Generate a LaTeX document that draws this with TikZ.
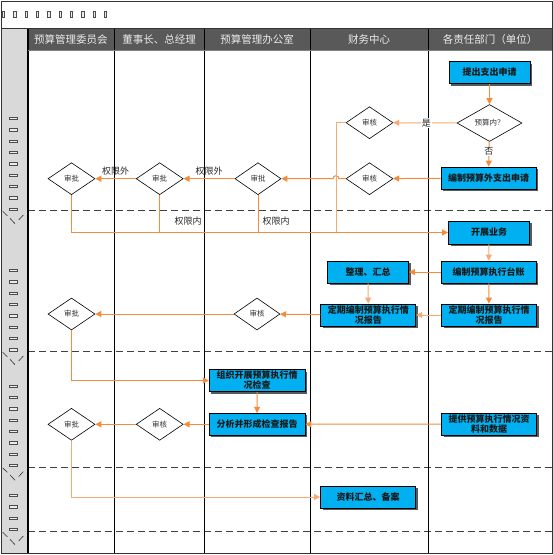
\documentclass[tikz,border=0pt]{standalone}
\usepackage{fontspec}
\setmainfont{Noto Sans CJK SC}
\usetikzlibrary{shapes.geometric,arrows.meta,shadows}
\definecolor{boxblue}{RGB}{0,176,240}
\definecolor{org}{RGB}{245,140,60}
\definecolor{lorg}{RGB}{248,170,115}
\definecolor{hdr}{RGB}{89,89,89}
\definecolor{side}{RGB}{217,217,217}
\begin{document}
\begin{tikzpicture}[x=1pt,y=-1pt,
  box/.style={rectangle,draw=black,line width=0.8pt,fill=boxblue,minimum height=22pt,inner sep=1pt,align=center,font=\fontsize{9}{10}\selectfont\bfseries,text=black!90,drop shadow={shadow xshift=2pt,shadow yshift=-2pt,fill=black!65,opacity=1}},
  dia/.style={diamond,draw=black,line width=0.6pt,fill=white,inner sep=0pt,minimum width=47pt,minimum height=32pt,font=\fontsize{7.5}{8}\selectfont,text=black!80},
  arr/.style={draw=org,line width=1pt,-{Triangle[length=6pt,width=6pt]}},
  larr/.style={draw=lorg,line width=1pt,-{Triangle[length=6pt,width=6pt]}},
  ln/.style={draw=org,line width=1pt},
  lln/.style={draw=lorg,line width=1pt},
  lbl/.style={font=\fontsize{9}{10}\selectfont,inner sep=1pt,text=black!85},
  hdrtxt/.style={font=\fontsize{10.5}{11}\selectfont,text=white!92!black},
  sep/.style={draw=black!75,line width=0.9pt,dash pattern=on 7pt off 4pt},
  glyphbox/.style={draw=black!70,fill=gray!15,line width=0.5pt},
  chev/.style={draw=black!80,line width=0.6pt}
]
\useasboundingbox (0,0) rectangle (553,555);
% backgrounds
\fill[white] (0,0) rectangle (553,555);
\fill[side] (1,28) rectangle (28,553);
\fill[hdr] (28,28) rectangle (552,50);
% title placeholder boxes
\foreach \k in {0,...,9} {
  \draw[glyphbox] ({2.2+11.33*\k},11) rectangle ({4.7+11.33*\k},17);
}
% side column placeholder boxes
\foreach \yb/\n in {209/8,349.7/7,465.3/7,529.3/3} {
  \foreach \k in {0,...,\n} {
    \draw[glyphbox] (9.3,{\yb-11.33*\k-1.2}) rectangle (17.3,{\yb-11.33*\k+1.2});
  }
}
% separators
\foreach \ys in {210.7,351.7,467.3,531.7} {
  \draw[sep] (28,\ys) -- (552,\ys);
  \draw[chev] (2.7,\ys+0.6) -- (7.3,\ys+5);
  \draw[chev] (10,\ys+7.6) -- (15,\ys+13);
  \draw[chev] (18.7,\ys+9.3) -- (23.3,\ys+4.3);
}
% column lines
\foreach \xc in {114,204,310.5,428} {
  \draw[black,line width=0.9pt] (\xc,28) -- (\xc,553);
}
\draw[black,line width=1.2pt] (28,28) -- (28,553);
\draw[black!80,line width=1pt] (1,28) -- (552,28);
\draw[gray,line width=0.8pt] (28,50) -- (552,50);
\draw[black!80,line width=1pt] (1,1) rectangle (552,553);
% header texts
\node[hdrtxt] (h1) at (71,39.5) {预算管理委员会};
\node[hdrtxt] (h2) at (159,39.5) {董事长、总经理};
\node[hdrtxt] (h3) at (257,39.5) {预算管理办公室};
\node[hdrtxt] (h4) at (369,39.5) {财务中心};
\node[hdrtxt] (h5) at (490,39.5) {各责任部门（单位）};

% nodes
\node[box,minimum width=81pt] (n1) at (489.5,72.5) {提出支出申请};
\node[dia,minimum width=65pt] (d1) at (489.5,123) {预算内？};
\node[box,minimum width=95pt] (n2) at (488.5,178) {编制预算外支出申请};
\node[dia] (dA) at (369.5,122.7) {审核};
\node[dia] (dB) at (369.5,178.7) {审核};
\node[dia,minimum width=46pt] (dC) at (258,178.7) {审批};
\node[dia] (dD) at (159.7,178.7) {审批};
\node[dia] (dE) at (71.5,178.7) {审批};
\node[box,minimum width=81pt,minimum height=23pt] (n3) at (489,232.5) {开展业务};
\node[box,minimum width=95pt] (n4) at (488.7,272) {编制预算执行台账};
\node[box,minimum width=81pt] (n5) at (368,272) {整理、汇总};
\node[box,minimum width=95pt] (n6) at (368.3,315) {定期编制预算执行情\\况报告};
\node[box,minimum width=95pt] (n7) at (489,315) {定期编制预算执行情\\况报告};
\node[dia,minimum width=46pt] (dF) at (257,314) {审核};
\node[dia] (dG) at (71.5,314) {审批};
\node[box,minimum width=96pt] (n8) at (257.2,380.5) {组织开展预算执行情\\况检查};
\node[box,minimum width=96pt] (n9) at (257,424.3) {分析并形成检查报告};
\node[box,minimum width=95pt] (n10) at (489,424) {提供预算执行情况资\\料和数据};
\node[dia] (dH) at (159.7,424.3) {审核};
\node[dia] (dI) at (71.5,424.3) {审批};
\node[box,minimum width=95pt] (n11) at (368,497) {资料汇总、备案};

% connectors row 1
\draw[arr] (n1) -- (d1);
\draw[larr] (d1) -- node[lbl,fill=white,pos=0.48] (lshi) {是} (dA);
\draw[arr] (d1) -- node[lbl,fill=white,pos=0.4] (lfou) {否} (n2);
\draw[arr] (n2) -- (dB);
\coordinate (hop) at (336,178.7);
\draw[arr] (dB.west) -- ([xshift=3pt]hop) arc (0:-180:3) -- (dC.east);
\draw[arr] (dC) -- node[lbl,above=1.5pt] (lwai1) {权限外} (dD);
\draw[arr] (dD) -- node[lbl,above=1.5pt] (lwai2) {权限外} (dE);
\coordinate (j1) at (336,232.5);
\draw[lln] (dA.west) -| (j1);
\draw[arr] (dE.south) |- (n3.west);
\draw[ln] (dD.south) -- (dD.south |- n3.west);
\draw[ln] (dC.south) -- (dC.south |- n3.west);
\node[lbl] (lnei1) at (188,221) {权限内};
\node[lbl] (lnei2) at (276,221.5) {权限内};
% row 2
\draw[larr] (n3) -- (n4);
\draw[arr] (n4) -- (n5);
\draw[arr] (n4) -- (n7);
\draw[larr] (n5) -- (n6);
\draw[larr] (n7) -- (n6);
\draw[arr] (n6) -- (dF);
\draw[arr] (dF) -- (dG);
\draw[arr] (dG.south) |- (n8.west);
% row 3
\draw[arr] (n8) -- (n9);
\draw[arr] (n10) -- (n9);
\draw[arr] (n9) -- (dH);
\draw[arr] (dH) -- (dI);
\draw[larr] (dI.south) |- (n11.west);
\end{tikzpicture}
\end{document}
